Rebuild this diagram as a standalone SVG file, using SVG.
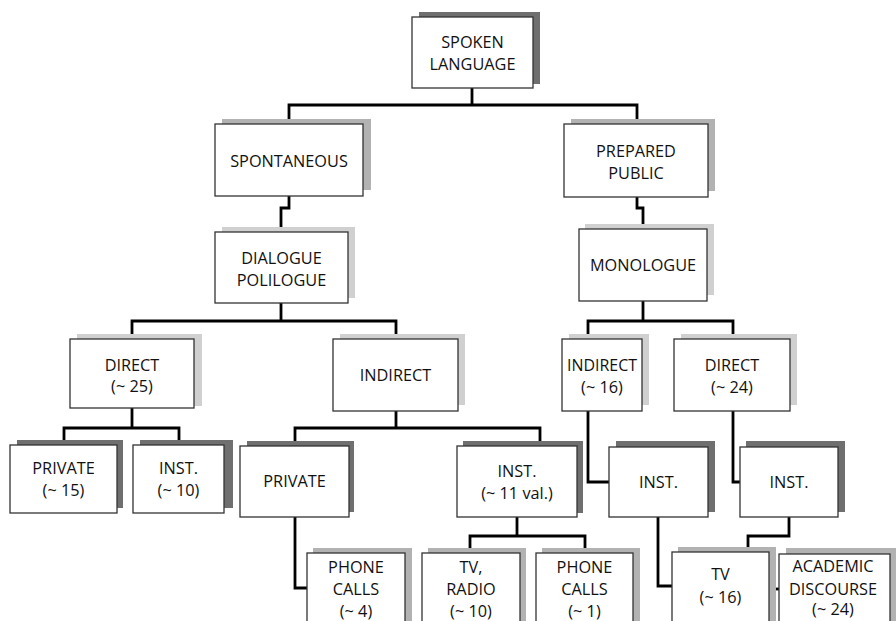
<svg xmlns="http://www.w3.org/2000/svg" width="896" height="621" viewBox="0 0 896 621">
<style>
.bx{fill:#fff;stroke:#333;stroke-width:1.3}
.s1{fill:#6f6f6f}
.s2{fill:#b2b2b2}
.s3{fill:#d0d0d0}
text{font-family:"Open Sans","Noto Sans","Liberation Sans",sans-serif;font-size:16.3px;fill:#111;text-anchor:middle}
.c{fill:none;stroke:#000;stroke-width:2.8;stroke-linejoin:miter}
</style>
<rect width="896" height="621" fill="#fff"/>
<g id="connectors">
<path class="c" d="M472 88V105M289 124V105H637V124"/>
<path class="c" d="M289 196V208H281V232"/>
<path class="c" d="M637 197V208H643V229"/>
<path class="c" d="M281 303V321M132 339V321H396V339"/>
<path class="c" d="M643 301V321M588 339V321H733V339"/>
<path class="c" d="M132 408V428M64 445V428H179V445"/>
<path class="c" d="M396 411V428M295 446V428H540V446"/>
<path class="c" d="M588 411V482H609"/>
<path class="c" d="M733 411V482H740"/>
<path class="c" d="M295 517V588H307"/>
<path class="c" d="M517 517V536M470 553V536H585V553"/>
<path class="c" d="M658 517V586H672"/>
<path class="c" d="M789 517V536H748V552"/>
<path class="c" d="M769 589H779"/>
</g>
<g id="spoken"><rect class="s1" x="419" y="12" width="121" height="72"/><rect class="bx" x="412" y="17" width="121" height="71"/><text x="472.5" y="48">SPOKEN</text><text x="472.5" y="70">LANGUAGE</text></g>
<g id="spontaneous"><rect class="s2" x="222" y="119" width="149" height="71"/><rect class="bx" x="215" y="124" width="148" height="72"/><text x="289" y="167">SPONTANEOUS</text></g>
<g id="prepared"><rect class="s2" x="571" y="119" width="144" height="72"/><rect class="bx" x="564" y="124" width="144" height="73"/><text x="636" y="157">PREPARED</text><text x="636" y="179">PUBLIC</text></g>
<g id="dialogue"><rect class="s3" x="222" y="227" width="133" height="71"/><rect class="bx" x="215" y="232" width="133" height="71"/><text x="281.5" y="264">DIALOGUE</text><text x="281.5" y="286">POLILOGUE</text></g>
<g id="monologue"><rect class="s3" x="585" y="224" width="129" height="71"/><rect class="bx" x="579" y="229" width="128" height="72"/><text x="643" y="271">MONOLOGUE</text></g>
<g id="direct25"><rect class="s3" x="77" y="334" width="125" height="72"/><rect class="bx" x="70" y="339" width="124" height="69"/><text x="132" y="371">DIRECT</text><text x="132" y="392">(~ 25)</text></g>
<g id="indirect"><rect class="s3" x="340" y="334" width="125" height="71"/><rect class="bx" x="333" y="339" width="125" height="72"/><text x="395.5" y="381">INDIRECT</text></g>
<g id="indirect16"><rect class="s3" x="569" y="334" width="80" height="71"/><rect class="bx" x="562" y="339" width="80" height="72"/><text x="602" y="371" textLength="70" lengthAdjust="spacingAndGlyphs">INDIRECT</text><text x="602" y="393">(~ 16)</text></g>
<g id="direct24"><rect class="s3" x="681" y="334" width="116" height="71"/><rect class="bx" x="674" y="339" width="116" height="72"/><text x="732" y="371">DIRECT</text><text x="732" y="393">(~ 24)</text></g>
<g id="private15"><rect class="s1" x="17" y="440" width="106" height="68"/><rect class="bx" x="10" y="445" width="107" height="68"/><text x="63.5" y="474">PRIVATE</text><text x="63.5" y="496">(~ 15)</text></g>
<g id="inst10"><rect class="s1" x="140" y="440" width="93" height="68"/><rect class="bx" x="133" y="445" width="91" height="68"/><text x="178.5" y="474">INST.</text><text x="178.5" y="496">(~ 10)</text></g>
<g id="private"><rect class="s1" x="247" y="441" width="107" height="71"/><rect class="bx" x="240" y="446" width="109" height="71"/><text x="294.5" y="487">PRIVATE</text></g>
<g id="inst11"><rect class="s1" x="463" y="441" width="120" height="72"/><rect class="bx" x="457" y="446" width="120" height="71"/><text x="517" y="477">INST.</text><text x="517" y="499">(~ 11 val.)</text></g>
<g id="instmid"><rect class="s1" x="616" y="441" width="99" height="71"/><rect class="bx" x="609" y="447" width="99" height="70"/><text x="658.5" y="488">INST.</text></g>
<g id="instright"><rect class="s1" x="746" y="441" width="99" height="71"/><rect class="bx" x="740" y="447" width="98" height="70"/><text x="789" y="488">INST.</text></g>
<g id="phone4"><rect class="s2" x="313" y="548" width="99" height="80"/><rect class="bx" x="307" y="553" width="98" height="80"/><text x="356" y="573">PHONE</text><text x="356" y="595">CALLS</text><text x="356" y="617">(~ 4)</text></g>
<g id="tvradio"><rect class="s2" x="428" y="548" width="98" height="80"/><rect class="bx" x="422" y="553" width="98" height="80"/><text x="471" y="573">TV,</text><text x="471" y="595">RADIO</text><text x="471" y="617">(~ 10)</text></g>
<g id="phone1"><rect class="s2" x="542" y="548" width="98" height="80"/><rect class="bx" x="536" y="553" width="97" height="80"/><text x="584.5" y="573">PHONE</text><text x="584.5" y="595">CALLS</text><text x="584.5" y="617">(~ 1)</text></g>
<g id="tv16"><rect class="s2" x="678" y="547" width="98" height="80"/><rect class="bx" x="672" y="552" width="97" height="80"/><text x="720.5" y="580">TV</text><text x="720.5" y="603">(~ 16)</text></g>
<g id="academic"><rect class="s2" x="786" y="548" width="110" height="80"/><rect class="bx" x="779" y="554" width="111" height="80"/><text x="833" y="572">ACADEMIC</text><text x="833" y="595">DISCOURSE</text><text x="833" y="615">(~ 24)</text></g>
</svg>
